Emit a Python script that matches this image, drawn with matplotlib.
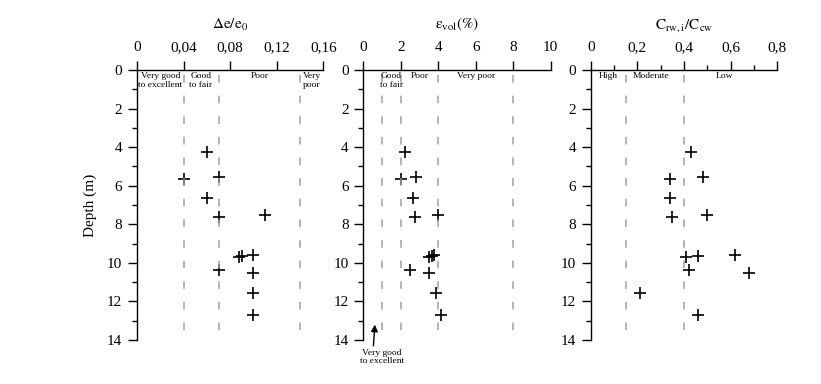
import matplotlib
matplotlib.use("Agg")
from matplotlib import pyplot as plt
from matplotlib.ticker import FixedLocator, FuncFormatter

plt.rcParams['font.family'] = ['Liberation Serif', 'DejaVu Serif']
plt.rcParams['mathtext.fontset'] = 'stix'

# profondita' dei campioni (m)
depth = [4.27, 5.64, 5.55, 6.65, 7.64, 7.5, 9.72, 9.67, 9.57, 10.38, 10.52, 11.55, 12.68]

# valori
de_e0 = [0.06, 0.04, 0.07, 0.06, 0.07, 0.11, 0.088, 0.090, 0.10, 0.07, 0.10, 0.10, 0.10]
eps_vol = [2.2, 2.0, 2.8, 2.65, 2.75, 4.0, 3.5, 3.65, 3.75, 2.5, 3.5, 3.9, 4.15]
c_ratio = [0.43, 0.34, 0.48, 0.34, 0.35, 0.50, 0.41, 0.46, 0.62, 0.42, 0.68, 0.21, 0.46]

# limiti delle classi e etichette
lim1 = [0.04, 0.07, 0.14]
zone1 = [(0.02, "Very good\nto excellent"), (0.055, "Good\nto fair"), (0.105, "Poor"), (0.15, "Very\npoor")]
lim2 = [1, 2, 4, 8]
zone2 = [(1.5, "Good\nto fair"), (3.0, "Poor"), (6.0, "Very poor")]
lim3 = [0.15, 0.4]
zone3 = [(0.075, "High"), (0.26, "Moderate"), (0.575, "Low")]

ticks1 = [0, 0.04, 0.08, 0.12, 0.16]
ticks2 = [0, 2, 4, 6, 8, 10]
ticks3 = [0, 0.2, 0.4, 0.6, 0.8]

fig = plt.figure(figsize=(8.21, 3.84), dpi=100)
W, H = 821, 384
boxes = [(137, 323.3), (363.3, 550.7), (590.7, 777.3)]
top, bottom = 70, 340

def virgola(v, pos):
    return ("%g" % v).replace(".", ",")

pannelli = [
    (de_e0, ticks1, (0, 0.16), lim1, zone1, r"$\mathrm{\Delta e/e_0}$", None),
    (eps_vol, ticks2, (0, 10), lim2, zone2, r"$\mathrm{\varepsilon_{vol}(\%)}$", None),
    (c_ratio, ticks3, (0, 0.8), lim3, zone3, r"$\mathrm{C_{rw,i}/C_{cw}}$", [0.1, 0.3, 0.5, 0.7]),
]

axes = []
for (x0, x1), (vals, ticks, xl, lims, zones, label, minori) in zip(boxes, pannelli):
    ax = fig.add_axes([x0 / W, (H - bottom) / H, (x1 - x0) / W, (bottom - top) / H])
    axes.append(ax)
    ax.plot(vals, depth, ls="none", marker="+", color="black", markersize=8, mew=1.2)
    for l in lims:
        ax.plot([l, l], [0.25, 14], color="#a0a0a0", lw=1.1, dashes=(5, 8.5))
    for xz, t in zones:
        ax.text(xz, 0.1, t, ha="center", va="top", fontsize=6.8, linespacing=1.1)
    ax.set_xlim(*xl)
    ax.set_ylim(14, 0)
    ax.spines["right"].set_visible(False)
    ax.spines["bottom"].set_visible(False)
    ax.spines["top"].set_linewidth(1.0)
    ax.spines["left"].set_linewidth(1.0)
    ax.xaxis.tick_top()
    ax.xaxis.set_label_position("top")
    ax.set_xticks(ticks)
    ax.xaxis.set_major_formatter(FuncFormatter(virgola))
    if minori:
        ax.xaxis.set_minor_locator(FixedLocator(minori))
    ax.set_yticks(range(0, 15, 2))
    ax.yaxis.set_minor_locator(FixedLocator(range(1, 15, 2)))
    ax.tick_params(which="major", length=6.5, width=1.0, labelsize=11)
    ax.tick_params(axis="x", which="major", pad=5)
    ax.tick_params(axis="y", which="major", pad=4)
    ax.tick_params(which="minor", length=3.5, width=1.0)
    ax.set_xlabel(label, fontsize=11, labelpad=9)

axes[0].set_ylabel("Depth (m)", fontsize=11, labelpad=7)

axes[1].annotate("Very good\nto excellent", xy=(0.62, 13.2), xytext=(1.0, 14.45),
                 ha="center", va="top", fontsize=6.8, linespacing=1.1,
                 annotation_clip=False,
                 arrowprops=dict(arrowstyle="-|>", color="black", lw=1.0,
                                 mutation_scale=10, shrinkA=0, shrinkB=0,
                                 relpos=(0.3, 1.0)))

fig.savefig("out.png", dpi=100)
